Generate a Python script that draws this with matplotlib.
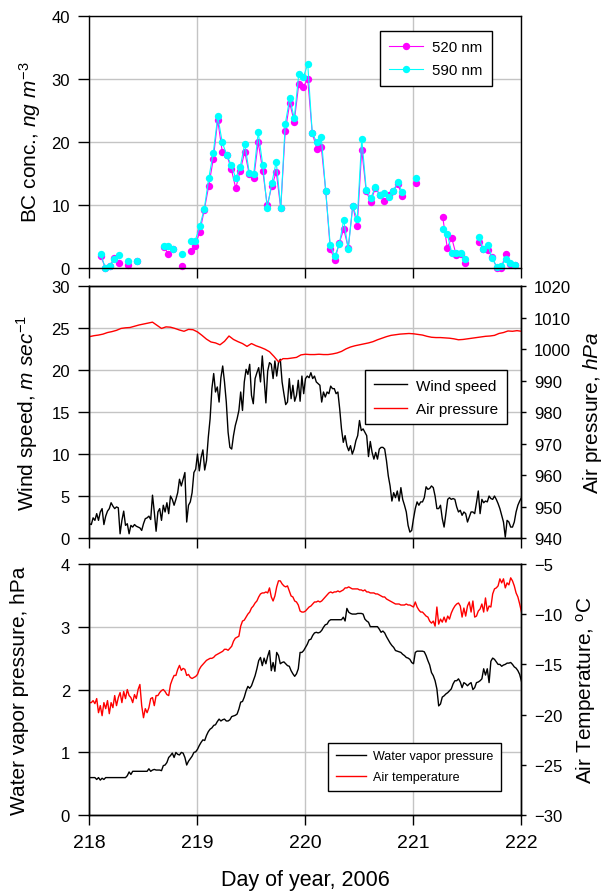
import numpy as np
import matplotlib
matplotlib.use('Agg')
import matplotlib.pyplot as plt

plt.rcParams['font.family'] = 'Liberation Sans'
plt.rcParams['mathtext.fontset'] = 'custom'
plt.rcParams['mathtext.rm'] = 'Liberation Sans'
plt.rcParams['mathtext.it'] = 'Liberation Sans:italic'

# ---- BC concentration, hourly (hour of day 218 .. 221) ----
bc_hour = [2, 3, 4, 5, 6, 8, 10, 16, 17, 18, 20, 22, 23, 24, 25, 26, 27, 28, 29, 30,
           31, 32, 33, 34, 35, 36, 37, 38, 39, 40, 41, 42, 43, 44, 45, 46, 47, 48, 49, 50,
           51, 52, 53, 54, 55, 56, 57, 58, 59, 60, 61, 62, 63, 64, 65, 66, 67, 68, 69, 72,
           78, 79, 80, 81, 82, 83, 86, 87, 88, 89, 90, 91, 92, 93, 94]
bc520 = [1.9, 0.0, 0.2, 1.6, 0.8, 0.5, 1.0, 3.3, 2.2, 2.9, 0.3, 2.6, 3.5, 5.7, 9.1, 13.0, 17.2, 23.4, 18.4, 17.9,
         15.7, 12.6, 15.4, 18.4, 14.8, 14.2, 19.9, 15.4, 9.9, 12.9, 15.2, 9.4, 21.7, 26.1, 23.2, 29.1, 28.7, 29.9, 21.4, 18.9,
         19.2, 12.2, 3.0, 1.2, 3.9, 6.1, 3.2, 9.8, 6.6, 18.7, 12.1, 10.5, 12.6, 11.6, 10.6, 11.5, 12.2, 13.3, 11.4, 13.5,
         8.0, 3.2, 4.7, 2.0, 2.1, 0.8, 4.1, 3.0, 2.8, 1.7, 0.0, 0.0, 2.1, 0.6, 0.4]
bc590 = [2.1, 0.0, 0.3, 1.3, 2.0, 1.0, 1.0, 3.4, 3.5, 2.9, 2.1, 4.3, 4.3, 6.6, 9.3, 14.2, 18.2, 24.0, 19.9, 17.9,
         16.3, 14.2, 16.0, 19.7, 15.1, 14.9, 21.5, 16.3, 9.4, 13.4, 16.8, 9.5, 22.8, 26.9, 23.7, 30.7, 30.2, 32.3, 21.4, 19.9,
         20.8, 12.1, 3.6, 1.8, 3.7, 7.6, 2.9, 9.8, 7.7, 20.5, 12.4, 11.0, 12.8, 11.6, 11.9, 11.2, 12.2, 13.6, 12.0, 14.3,
         6.1, 5.4, 2.3, 2.4, 2.4, 1.4, 4.8, 3.0, 3.6, 1.5, 0.1, 0.2, 1.4, 0.8, 0.5]

# ---- wind speed (m/s), every 24 min from day 218 to 222 ----
wind = [1.7, 1.6, 2.4, 2.1, 2.9, 2.1, 3.1, 3.5, 1.6, 2.6, 3.2, 3.5, 4.2, 3.8, 3.5, 3.7, 3.6, 0.5, 2.1, 3.2,
        1.5, 1.7, 0.5, 1.5, 1.3, 1.6, 1.4, 1.3, 1.2, 0.9, 1.7, 2.3, 2.4, 2.6, 2.2, 5.1, 3.1, 0.8, 3.1, 3.5,
        2.1, 3.9, 3.1, 4.2, 2.9, 5.0, 4.6, 3.9, 4.6, 5.4, 7.0, 6.2, 7.0, 7.8, 1.9, 3.9, 4.3, 5.4, 7.8, 8.2,
        10.0, 8.0, 9.6, 10.5, 8.1, 9.2, 12.0, 14.2, 17.8, 19.6, 17.4, 18.0, 16.2, 19.1, 20.5, 18.6, 16.2, 12.6, 10.8, 10.6,
        12.2, 13.4, 14.2, 15.2, 17.4, 15.2, 18.6, 20.1, 19.5, 20.7, 17.0, 16.0, 19.0, 19.7, 20.3, 18.6, 21.7, 19.0, 16.1, 19.9,
        20.9, 20.7, 19.0, 21.1, 19.3, 20.9, 21.3, 18.6, 17.2, 15.9, 16.2, 19.0, 16.6, 18.2, 16.3, 17.0, 18.8, 16.3, 19.3, 17.2,
        19.0, 19.3, 19.1, 19.7, 19.0, 19.3, 18.6, 18.4, 18.2, 16.2, 17.4, 16.8, 17.4, 17.2, 18.1, 17.8, 17.8, 17.2, 17.4, 15.4,
        13.0, 11.4, 12.2, 11.0, 10.4, 11.0, 10.0, 10.6, 11.6, 12.2, 14.0, 12.8, 13.0, 12.6, 12.2, 9.7, 11.5, 10.2, 9.4, 10.2,
        9.4, 10.6, 10.8, 10.8, 10.6, 9.2, 7.4, 6.2, 4.4, 5.4, 4.8, 5.6, 4.4, 6.0, 4.6, 3.9, 3.1, 1.5, 0.7, 0.9,
        2.3, 3.5, 4.3, 3.9, 4.3, 4.3, 4.8, 6.1, 5.8, 5.9, 6.2, 6.0, 5.0, 3.5, 3.5, 3.9, 2.3, 1.3, 2.9, 4.6,
        4.8, 4.6, 4.7, 4.6, 3.7, 3.1, 3.3, 2.7, 3.1, 2.9, 1.9, 2.5, 3.1, 3.1, 2.9, 4.2, 5.6, 2.9, 4.6, 4.2,
        4.4, 4.3, 5.0, 4.7, 4.6, 5.0, 4.6, 4.1, 3.5, 2.7, 1.9, 0.1, 2.1, 1.9, 1.3, 1.3, 1.9, 3.1, 3.9, 4.4,
        4.8]

# ---- air pressure (hPa), hourly ----
pressure = [1004.0, 1004.3, 1004.5, 1004.8, 1005.3, 1005.6, 1006.0, 1006.6, 1006.8, 1006.9,
            1007.3, 1007.7, 1008.0, 1008.3, 1008.6, 1007.6, 1006.6, 1007.1, 1007.0, 1006.6,
            1006.1, 1005.7, 1006.3, 1006.2, 1005.5, 1004.4, 1003.2, 1002.3, 1002.0, 1001.4,
            1002.5, 1004.2, 1003.1, 1002.4, 1001.8, 1000.9, 1001.8, 1001.1, 1000.6, 1000.0,
            999.2, 997.7, 996.0, 997.0, 997.0, 997.2, 997.4, 998.2, 998.4, 998.3,
            998.3, 998.4, 998.3, 998.3, 998.5, 998.8, 999.3, 1000.1, 1000.7, 1001.1,
            1001.4, 1001.7, 1002.0, 1002.4, 1003.0, 1003.5, 1004.0, 1004.4, 1004.6, 1004.8,
            1004.9, 1005.0, 1004.9, 1004.7, 1004.5, 1004.1, 1003.8, 1003.7, 1003.7, 1003.6,
            1003.5, 1003.3, 1003.0, 1003.1, 1003.3, 1003.5, 1003.7, 1003.9, 1004.1, 1004.2,
            1004.4, 1005.0, 1005.3, 1005.8, 1005.7, 1005.9, 1005.7]

# ---- water vapor pressure (hPa), every 24 min ----
vapor = [0.60, 0.60, 0.60, 0.60, 0.57, 0.60, 0.56, 0.59, 0.57, 0.60, 0.60, 0.60, 0.60, 0.60, 0.60, 0.60, 0.60,
         0.60, 0.60, 0.60, 0.60, 0.63, 0.69, 0.65, 0.70, 0.70, 0.70, 0.70, 0.70, 0.70, 0.70, 0.70, 0.70, 0.74,
         0.70, 0.72, 0.73, 0.72, 0.72, 0.72, 0.71, 0.79, 0.80, 0.84, 0.92, 0.95, 0.99, 0.92, 1.00, 0.97,
         0.96, 1.00, 0.99, 0.92, 0.80, 0.86, 0.90, 0.94, 1.00, 1.01, 1.05, 1.11, 1.16, 1.20, 1.19, 1.27, 1.33,
         1.37, 1.39, 1.43, 1.44, 1.49, 1.53, 1.50, 1.52, 1.53, 1.50, 1.50, 1.52, 1.57, 1.58, 1.59, 1.61, 1.69,
         1.80, 1.81, 1.88, 1.98, 2.05, 2.02, 2.06, 2.14, 2.22, 2.33, 2.46, 2.51, 2.38, 2.50, 2.41, 2.53, 2.62,
         2.30, 2.43, 2.29, 2.59, 2.54, 2.41, 2.43, 2.44, 2.41, 2.38, 2.37, 2.30, 2.25, 2.21, 2.25, 2.33,
         2.59, 2.59, 2.62, 2.67, 2.72, 2.79, 2.80, 2.86, 2.90, 2.91, 2.90, 2.91, 2.94, 2.99, 3.03, 3.04, 3.09,
         3.11, 3.11, 3.11, 3.11, 3.11, 3.11, 3.11, 3.15, 3.09, 3.29, 3.23, 3.21, 3.20, 3.20, 3.20, 3.21,
         3.21, 3.21, 3.20, 3.12, 3.09, 3.07, 3.00, 3.00, 3.00, 3.00, 3.00, 2.96, 2.91, 2.93, 2.90, 2.84, 2.79,
         2.74, 2.70, 2.67, 2.62, 2.61, 2.60, 2.59, 2.56, 2.54, 2.51, 2.50, 2.48, 2.43, 2.41, 2.59, 2.61, 2.61,
         2.61, 2.61, 2.60, 2.54, 2.46, 2.39, 2.27, 2.22, 2.14, 2.01, 1.74, 1.77, 1.88, 1.90, 1.93, 1.95, 1.98,
         2.01, 2.09, 2.14, 2.14, 2.17, 2.12, 2.03, 2.11, 2.09, 2.06, 2.09, 2.11, 2.00, 2.03, 2.11, 2.12,
         2.14, 2.17, 2.33, 2.23, 2.33, 2.11, 2.45, 2.50, 2.48, 2.44, 2.40, 2.40, 2.37, 2.39, 2.40, 2.42,
         2.42, 2.43, 2.40, 2.36, 2.34, 2.30, 2.24, 2.13]

# ---- air temperature (deg C), every 24 min ----
temp = [-18.8, -18.8, -18.6, -18.9, -18.4, -19.8, -19.1, -20.1, -18.8, -19.4, -18.6, -19.9, -18.8, -19.3, -18.1, -19.1, -18.3,
        -17.8, -18.8, -17.7, -18.4, -17.5, -18.1, -18.3, -18.8, -18.0, -18.4, -17.5, -17.0, -19.1, -20.3, -19.4, -19.8, -19.3,
        -18.4, -18.3, -19.1, -18.1, -18.1, -17.8, -17.6, -17.5, -17.7, -18.0, -18.1, -17.0, -16.5, -16.1, -16.1, -15.5,
        -15.1, -15.6, -15.4, -15.5, -16.1, -16.0, -16.3, -16.4, -16.3, -16.2, -16.0, -15.5, -15.2, -15.0, -14.8, -14.6, -14.5,
        -14.4, -14.4, -14.3, -14.1, -14.0, -13.9, -13.8, -13.7, -13.5, -13.5, -13.6, -13.4, -13.2, -12.7, -12.4, -12.3, -12.2,
        -11.2, -10.7, -10.6, -10.3, -10.0, -9.8, -9.4, -9.2, -8.9, -8.7, -8.3, -8.0, -7.9, -7.9, -7.8, -7.9, -7.4,
        -8.3, -8.7, -8.2, -7.3, -6.7, -6.7, -7.0, -7.2, -7.3, -7.2, -7.7, -8.2, -8.3, -8.7, -8.8, -9.1,
        -9.7, -9.8, -9.8, -9.7, -9.5, -9.3, -9.2, -9.0, -8.8, -8.8, -8.7, -8.8, -8.7, -8.5, -8.3, -8.1, -7.9,
        -7.8, -7.9, -7.8, -7.8, -7.7, -7.8, -7.7, -7.6, -7.4, -7.4, -7.3, -7.4, -7.5, -7.5, -7.5, -7.5,
        -7.6, -7.6, -7.7, -7.6, -7.8, -7.8, -7.9, -7.9, -7.9, -8.0, -8.0, -8.1, -8.2, -8.3, -8.3, -8.5, -8.6,
        -8.7, -8.8, -8.9, -9.0, -9.0, -9.0, -9.1, -9.1, -9.1, -9.0, -9.1, -9.1, -9.2, -9.3, -8.8, -9.3, -9.6,
        -9.8, -9.8, -10.0, -10.2, -10.3, -10.7, -10.9, -10.7, -11.2, -9.3, -11.0, -10.5, -10.8, -10.3, -10.8, -10.2, -10.5,
        -9.9, -9.5, -9.2, -9.0, -8.9, -9.2, -10.3, -9.4, -10.2, -9.2, -8.8, -9.8, -8.7, -10.3, -10.2, -9.7,
        -9.5, -9.0, -9.8, -8.4, -9.7, -9.2, -9.3, -8.0, -7.5, -7.4, -7.2, -6.5, -6.9, -6.5, -7.4, -6.9,
        -7.1, -6.4, -6.7, -7.2, -7.9, -8.3, -9.0, -9.8]

day_start, day_end = 218, 222
xticks = [218, 219, 220, 221, 222]

# hourly BC series with gaps where no sample
bc_t = day_start + (np.arange(96) + 0.5) / 24.0
bc520_full = np.full(96, np.nan)
bc590_full = np.full(96, np.nan)
bc520_full[bc_hour] = bc520
bc590_full[bc_hour] = bc590

t_wind = np.linspace(day_start, day_end, len(wind))
t_pres = np.linspace(day_start, day_end, len(pressure))
t_vap = np.linspace(day_start, day_end, len(vapor))
t_temp = np.linspace(day_start, day_end, len(temp))

fig = plt.figure(figsize=(6.08, 8.95), dpi=100)
ax1 = fig.add_axes([0.1472, 0.6998, 0.7105, 0.2816])
ax2 = fig.add_axes([0.1472, 0.3978, 0.7105, 0.2812])
ax3 = fig.add_axes([0.1472, 0.0879, 0.7105, 0.2811])


def base_style(ax):
    ax.set_xlim(day_start, day_end)
    ax.set_xticks(xticks)
    ax.grid(True, color='#c4c4c4', lw=1.0)
    ax.set_axisbelow(True)
    ax.tick_params(axis='y', direction='out', length=8, width=1, labelsize=12, pad=6)
    ax.tick_params(axis='x', direction='out', length=7, width=1, labelsize=14, pad=6.5)
    for s in ax.spines.values():
        s.set_linewidth(1.0)


def right_style(ax):
    ax.tick_params(axis='y', direction='out', length=3.5, width=1, labelsize=12, pad=5.5)
    for s in ax.spines.values():
        s.set_linewidth(1.0)


leg_kw = dict(frameon=True, fancybox=False, framealpha=1, edgecolor='black')

# ---- top: BC ----
base_style(ax1)
l1, = ax1.plot(bc_t, bc520_full, '-o', color='magenta', lw=0.8, ms=5.3, mew=0, clip_on=False, label='520 nm')
l2, = ax1.plot(bc_t, bc590_full, '-o', color='cyan', lw=0.8, ms=5.3, mew=0, clip_on=False, label='590 nm')
ax1.set_ylim(0, 40)
ax1.set_yticks([0, 10, 20, 30, 40])
ax1.tick_params(axis='x', labelbottom=False)
ax1.set_ylabel('BC conc., $ng\\ m^{-3}$', fontsize=15)
ax1.yaxis.set_label_coords(-0.108, 0.5)
lg = ax1.legend(loc='upper right', bbox_to_anchor=(0.948, 0.967), fontsize=10.8,
                borderpad=0.6, labelspacing=0.6, handlelength=2.3, handletextpad=0.6, **leg_kw)
lg.get_frame().set_linewidth(1.0)

# ---- middle: wind / pressure ----
base_style(ax2)
lw_, = ax2.plot(t_wind, wind, color='black', lw=1.0, label='Wind speed')
ax2.set_ylim(0, 30)
ax2.set_yticks([0, 5, 10, 15, 20, 25, 30])
ax2.tick_params(axis='x', labelbottom=False)
ax2.set_ylabel('Wind speed, $m\\ sec^{-1}$', fontsize=15)
ax2.yaxis.set_label_coords(-0.115, 0.5)
ax2b = ax2.twinx()
lp_, = ax2b.plot(t_pres, pressure, color='red', lw=1.0, label='Air pressure')
ax2b.set_ylim(940, 1020)
ax2b.set_yticks(np.arange(940, 1021, 10))
right_style(ax2b)
ax2b.set_ylabel('Air pressure, $hPa$', fontsize=15)
ax2b.yaxis.set_label_coords(1.138, 0.5)
lg = ax2b.legend([lw_, lp_], ['Wind speed', 'Air pressure'], loc='upper right',
                 bbox_to_anchor=(0.984, 0.696), fontsize=11, borderpad=0.55,
                 labelspacing=0.6, handlelength=2.2, handletextpad=0.6, **leg_kw)
lg.get_frame().set_linewidth(1.0)

# ---- bottom: vapor / temperature ----
base_style(ax3)
lv_, = ax3.plot(t_vap, vapor, color='black', lw=1.0, label='Water vapor pressure')
ax3.set_ylim(0, 4)
ax3.set_yticks([0, 1, 2, 3, 4])
ax3.set_ylabel('Water vapor pressure, hPa', fontsize=15)
ax3.yaxis.set_label_coords(-0.14, 0.5)
ax3.set_xlabel('Day of year, 2006', fontsize=15.5)
ax3.xaxis.set_label_coords(0.5, -0.215)
ax3b = ax3.twinx()
lt_, = ax3b.plot(t_temp, temp, color='red', lw=1.0, label='Air temperature')
ax3b.set_ylim(-30, -5)
ax3b.set_yticks([-30, -25, -20, -15, -10, -5])
right_style(ax3b)
ax3b.set_ylabel('Air Temperature, $^{\\mathrm{o}}$C', fontsize=15)
ax3b.yaxis.set_label_coords(1.122, 0.5)
lg = ax3b.legend([lv_, lt_], ['Water vapor pressure', 'Air temperature'], loc='lower right',
                 bbox_to_anchor=(0.967, 0.073), fontsize=9, borderpad=0.6,
                 labelspacing=0.7, handlelength=2.4, handletextpad=0.6, **leg_kw)
lg.get_frame().set_linewidth(1.0)

fig.savefig('out.png', dpi=100)
